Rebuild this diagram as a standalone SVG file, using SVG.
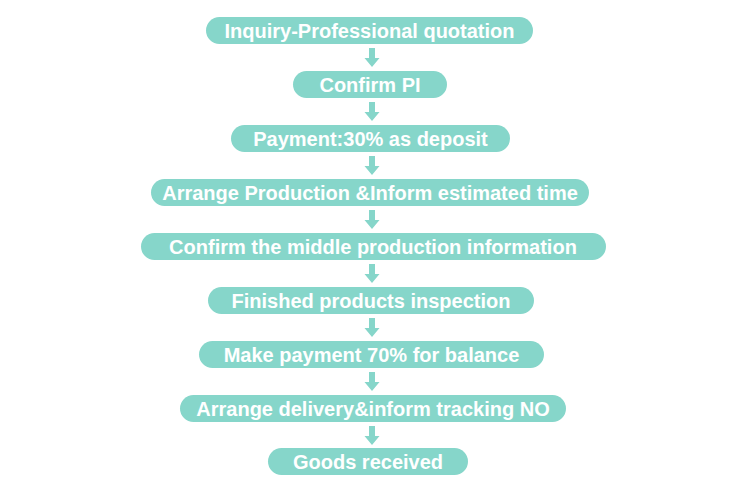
<svg xmlns="http://www.w3.org/2000/svg" width="750" height="499" viewBox="0 0 750 499">
<defs>
<style>
.box{fill:#86d6ca}
.t{font-family:"Liberation Sans",Arial,sans-serif;font-weight:bold;font-size:20px;fill:#ffffff;text-anchor:middle}
.arr{fill:#86d6ca}
</style>
<path id="a" d="M-3,0 H3 V10 H7.5 L0,19 L-7.5,10 H-3 Z"/>
</defs>
<rect width="750" height="499" fill="#ffffff"/>
<g id="connectors" class="arr">
<use href="#a" x="372" y="48"/>
<use href="#a" x="372" y="102"/>
<use href="#a" x="372" y="156"/>
<use href="#a" x="372" y="210"/>
<use href="#a" x="372" y="264"/>
<use href="#a" x="372" y="318"/>
<use href="#a" x="372" y="372"/>
<use href="#a" x="372" y="426"/>
</g>
<g id="n1"><rect class="box" x="206" y="17" width="327" height="27" rx="13.5"/><text class="t" x="369.5" y="37.5">Inquiry-Professional quotation</text></g>
<g id="n2"><rect class="box" x="293" y="71" width="154" height="27" rx="13.5"/><text class="t" x="370" y="91.5">Confirm PI</text></g>
<g id="n3"><rect class="box" x="231" y="125" width="279" height="27" rx="13.5"/><text class="t" x="370.5" y="145.5">Payment:30% as deposit</text></g>
<g id="n4"><rect class="box" x="151" y="179" width="438" height="27" rx="13.5"/><text class="t" x="370" y="199.5">Arrange Production &amp;Inform estimated time</text></g>
<g id="n5"><rect class="box" x="141" y="233" width="465" height="27" rx="13.5"/><text class="t" x="373" y="253.5">Confirm the middle production information</text></g>
<g id="n6"><rect class="box" x="208" y="287" width="326" height="27" rx="13.5"/><text class="t" x="371" y="307.5">Finished products inspection</text></g>
<g id="n7"><rect class="box" x="199" y="341" width="345" height="27" rx="13.5"/><text class="t" x="371.5" y="361.5">Make payment 70% for balance</text></g>
<g id="n8"><rect class="box" x="180" y="395" width="386" height="27" rx="13.5"/><text class="t" x="373" y="415.5">Arrange delivery&amp;inform tracking NO</text></g>
<g id="n9"><rect class="box" x="268" y="448" width="200" height="27" rx="13.5"/><text class="t" x="368" y="468.5">Goods received</text></g>
</svg>
